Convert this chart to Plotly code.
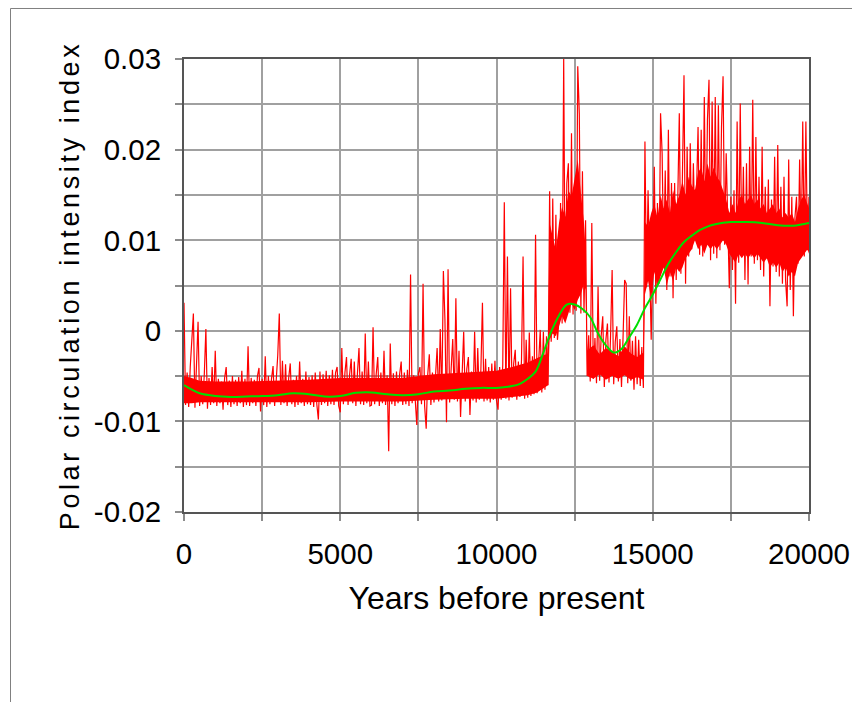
import plotly.graph_objects as go

# ---------------- data ----------------
# Red series: polar circulation intensity index, in units of 0.001, every 50 years
red_years = list(range(0, 20001, 50))
red_index_milli = [
    # 0 - 950
    3.1, -8.2, -4.6, -8.4, -4.0, -0.8, 1.9, -8.5, -3.6, 1.0, -8.3, -5.0, -8.1, -4.8, 0.2, -8.6, -5.2, -8.2, -4.0, -8.0,
    # 1000 - 1950
    -2.2, -8.3, -5.3, -8.0, -5.6, -8.7, -5.2, -4.0, -8.2, -5.5, -8.4, -5.0, -8.1, -5.4, -8.3, -5.1, -8.0, -4.4, -8.4, -5.3,
    # 2000 - 2950
    -8.2, -1.7, -8.3, -5.2, -8.0, -5.4, -8.3, -5.0, -4.1, -8.9, -5.3, -8.2, -2.8, -8.4, -5.0, -8.1, -5.3, -3.9, -8.3, -5.2,
    # 3000 - 3950
    -2.7, 1.9, -8.2, -3.3, -8.0, -3.7, -8.3, -5.2, -3.6, -8.1, -5.4, -8.4, -5.0, -8.2, -3.4, -8.0, -5.3, -8.3, -4.5, -8.1,
    # 4000 - 4950
    -5.1, -8.2, -4.9, -8.4, -4.6, -8.1, -9.8, -4.5, -8.2, -4.8, -8.0, -4.4, -8.3, -4.9, -8.1, -4.3, -8.2, -4.6, -4.0, -8.3,
    # 5000 - 5950
    -9.0, -1.9, -8.1, -4.6, -2.9, -8.2, -4.8, -3.1, -8.0, -3.4, -8.3, -4.7, -1.9, -8.1, -4.5, -8.2, -0.3, -8.0, -3.4, -8.3,
    # 6000 - 6950
    -8.2, 0.4, -8.1, -4.8, -2.9, -8.3, -4.6, -8.0, -2.2, -8.2, -4.9, -13.3, -1.4, -8.1, -4.7, -8.3, -4.5, -8.0, -4.8, -3.4,
    # 7000 - 7950
    -8.2, -4.6, -8.1, -4.3, -8.3, 6.2, -8.0, -4.9, -8.2, -10.4, -4.7, -4.0, -8.1, 5.2, -8.3, -10.8, -4.8, -2.6, -8.2, -4.6,
    # 8000 - 8950
    -7.9, -4.4, -1.9, -7.8, 0.2, -7.7, 6.6, 1.2, -10.1, 6.8, -7.9, -4.1, -0.9, -7.6, 3.6, -7.8, -2.2, -9.5, -4.3, -0.1,
    # 9000 - 9950
    -7.8, -4.2, -2.9, -9.3, -4.5, -7.7, -0.1, -7.9, -1.9, -7.6, -4.3, 3.1, -7.8, -3.1, -7.7, -4.0, -7.9, -3.6, -7.6, -3.3,
    # 10000 - 10950
    -7.7, -8.7, -4.0, -7.6, -3.8, 14.2, -7.5, 8.2, -7.7, 4.7, -7.4, -3.6, -2.1, -7.6, -3.4, -7.3, -3.2, 8.2, -7.5, -1.0,
    # 11000 - 11950
    -7.4, -0.2, -7.2, -2.8, -7.0, 10.6, -6.9, -2.5, 0.1, -6.8, -0.1, -6.5, -0.6, -6.0, 15.4, -1.2, 14.6, -0.8, 12.8, -1.0,
    # 12000 - 12950
    1.2, 14.1, 0.8, 30.0, 1.5, 16.3, 18.5, 2.0, 21.8, 1.8, 16.0, 2.2, 29.2, 24.0, 1.9, 17.6, 2.0, 12.2, -5.0, -0.5,
    # 13000 - 13950
    -5.6, 11.9, -5.3, -0.8, -5.8, 4.9, -5.5, -0.5, 1.6, -6.2, -1.0, 0.8, -5.7, -0.6, 6.7, -5.9, -1.2, 0.5, -5.6, -0.9,
    # 14000 - 14950
    -6.2, -0.7, 5.6, 5.2, -5.8, 1.6, -5.5, -1.1, -6.5, -0.6, -5.9, -1.0, -6.1, -1.8, -6.3, 20.9, 4.8, 15.5, 5.0, -1.0,
    # 15000 - 15950
    7.8, 18.1, 3.0, 14.1, 5.2, 24.0, 19.6, 7.4, 17.7, 4.5, 22.2, 6.0, 16.3, 3.6, 16.3, 5.6, 14.4, 24.0, 6.3, 20.3,
    # 16000 - 16950
    28.2, 5.2, 20.3, 8.2, 20.7, 9.0, 18.5, 10.4, 15.2, 22.5, 8.4, 22.2, 8.2, 25.8, 9.5, 23.3, 27.7, 7.8, 25.3, 8.5,
    # 17000 - 17950
    25.8, 8.0, 24.9, 8.9, 22.5, 28.1, 9.5, 19.6, 10.6, 4.7, 14.8, 6.7, 15.5, 3.0, 23.1, 7.5, 25.1, 8.2, 18.1, 5.6,
    # 18000 - 18950
    18.5, 5.1, 20.3, 8.2, 25.5, 7.4, 21.4, 7.8, 17.0, 6.7, 20.3, 6.0, 15.9, 8.0, 16.7, 2.7, 14.5, 7.1, 19.2, 6.5,
    # 19000 - 19950
    20.5, 6.0, 15.9, 5.2, 17.0, 5.6, 2.7, 18.9, 4.5, 14.8, 1.6, 12.5, 14.8, 7.4, 18.9, 8.5, 23.1, 8.2, 23.1, 8.9,
    # 20000
    14.8,
]

# Dense core of the red band (where the noisy series is solid red), units of 0.001
core_years = [
    0, 250, 500, 1000, 2000, 3000, 4000, 5000, 6000, 7000, 8000, 9000, 10000, 10500, 11000, 11300, 11650,
    11700, 11800, 11900, 12000, 12100, 12200, 12300, 12400, 12500, 12600, 12700, 12800, 12850,
    12900, 13100, 13300, 13500, 13700, 13900, 14100, 14300, 14500, 14700,
    14750, 14850, 14950, 15050, 15150, 15250, 15350, 15450, 15550, 15650, 15750, 15850, 15950,
    16050, 16150, 16250, 16350, 16450, 16550, 16650, 16750, 16850, 16950,
    17050, 17150, 17250, 17350, 17450, 17550, 17650, 17750, 17850, 17950,
    18050, 18150, 18250, 18350, 18450, 18550, 18650, 18750, 18850, 18950,
    19050, 19150, 19250, 19350, 19450, 19550, 19650, 19750, 19850, 19950, 20000,
]
core_upper_milli = [
    -5.0, -5.2, -5.5, -5.6, -5.6, -5.5, -5.4, -5.2, -5.2, -5.2, -4.8, -4.6, -4.4, -4.0, -3.5, -3.0, -2.5,
    11.9, 10.4, 8.9, 11.9, 13.7, 12.6, 15.5, 14.8, 17.0, 18.9, 15.2, 11.9, 8.9,
    -2.2, -1.6, -2.6, -1.9, -2.3, -2.8, -1.7, -2.5, -2.9, -2.4,
    12.0, 11.5, 13.0, 14.0, 12.5, 15.0, 13.5, 14.5, 13.0, 15.5, 14.0, 15.0, 16.5,
    15.0, 17.0, 16.0, 15.5, 17.5, 18.0, 16.5, 18.5, 17.0, 18.0,
    17.0, 16.5, 15.5, 14.5, 13.0, 14.0, 13.0, 14.5, 15.0, 14.0,
    14.5, 15.0, 14.0, 14.5, 13.5, 14.0, 13.0, 13.5, 14.0, 13.0,
    13.5, 12.5, 13.0, 12.5, 13.0, 12.0, 13.5, 14.5, 15.0, 14.0, 13.5,
]
core_lower_milli = [
    -8.0, -8.0, -7.9, -7.9, -7.9, -7.9, -7.9, -7.8, -7.8, -7.8, -7.6, -7.5, -7.5, -7.3, -7.1, -6.8, -6.0,
    -1.0, -0.3, -0.6, 0.5, 1.6, 0.8, 1.9, 3.0, 2.3, 3.4, 4.1, 5.2, 4.5,
    -5.0, -5.3, -4.8, -5.4, -5.0, -5.3, -4.9, -5.4, -5.1, -5.4,
    4.0, 5.5, 3.5, 6.5, 5.0, 6.0, 7.0, 5.0, 6.5, 5.5, 7.0, 6.5, 7.0,
    8.0, 8.5, 9.0, 10.0, 9.0, 9.5, 8.5, 9.5, 9.0, 9.5,
    9.0, 9.5, 10.0, 9.5, 8.5, 8.0, 7.5, 8.5, 8.0, 8.5,
    8.0, 8.5, 8.0, 8.5, 8.0, 7.5, 8.0, 7.0, 7.5, 7.0,
    7.5, 6.5, 7.0, 6.0, 6.5, 6.0, 7.5, 8.0, 8.5, 9.0, 8.5,
]

# Green smoothed curve, in units of 0.001
green_years = [0, 250, 500, 1000, 1500, 2000, 2500, 3000, 3500, 4000, 4500, 5000, 5500, 6000, 6500,
               7000, 7500, 8000, 8500, 9000, 9500, 10000, 10500, 10750, 11000, 11250, 11500, 11750,
               12000, 12250, 12500, 12750, 13000, 13250, 13500, 13750, 14000, 14250, 14500, 14750,
               15000, 15250, 15500, 15750, 16000, 16250, 16500, 16750, 17000, 17500, 18000, 18500,
               19000, 19500, 20000]
green_index_milli = [-6.0, -6.5, -6.9, -7.2, -7.3, -7.25, -7.2, -7.1, -6.9, -7.0, -7.25, -7.2, -6.85, -6.8, -7.0,
                     -7.1, -7.0, -6.7, -6.6, -6.4, -6.3, -6.3, -6.1, -5.85, -5.3, -4.5, -2.4, -0.1,
                     1.7, 2.9, 2.9, 2.4, 1.5, -0.3, -1.6, -2.4, -2.0, -0.7, 0.7, 2.5,
                     4.0, 5.7, 7.4, 8.7, 9.8, 10.5, 11.1, 11.5, 11.75, 12.0, 12.0, 11.9,
                     11.65, 11.6, 11.9]

x_tick_vals = [0, 2500, 5000, 7500, 10000, 12500, 15000, 17500, 20000]
x_tick_text = ["0", "", "5000", "", "10000", "", "15000", "", "20000"]
y_tick_vals = [-0.02, -0.015, -0.01, -0.005, 0, 0.005, 0.01, 0.015, 0.02, 0.025, 0.03]
y_tick_text = ["-0.02", "", "-0.01", "", "0", "", "0.01", "", "0.02", "", "0.03"]

assert len(red_years) == len(red_index_milli), (len(red_years), len(red_index_milli))
assert len(core_years) == len(core_upper_milli) == len(core_lower_milli), (
    len(core_years), len(core_upper_milli), len(core_lower_milli))
assert len(green_years) == len(green_index_milli), (len(green_years), len(green_index_milli))

to_index = lambda seq: [v / 1000 for v in seq]   # unit conversion only
red_index = to_index(red_index_milli)
core_upper = to_index(core_upper_milli)
core_lower = to_index(core_lower_milli)
green_index = to_index(green_index_milli)

# ---------------- figure ----------------
FONT = "Liberation Sans, Arial, Helvetica, sans-serif"
RED = "#ff0000"

fig = go.Figure()
# solid core of the noisy band
fig.add_trace(go.Scatter(x=core_years, y=core_lower, mode="lines", line=dict(width=0, color=RED),
                         hoverinfo="skip", showlegend=False))
fig.add_trace(go.Scatter(x=core_years, y=core_upper, mode="lines", line=dict(width=0, color=RED),
                         fill="tonexty", fillcolor=RED, hoverinfo="skip", showlegend=False))
# the noisy series itself
fig.add_trace(go.Scatter(
    x=red_years, y=red_index, mode="lines",
    line=dict(color=RED, width=1.2),
    hoverinfo="skip", showlegend=False,
))
fig.add_trace(go.Scatter(
    x=green_years, y=green_index, mode="lines",
    line=dict(color="#00dd00", width=2, shape="spline", smoothing=1.0),
    hoverinfo="skip", showlegend=False,
))

axis_common = dict(
    ticks="outside", ticklen=7, tickwidth=1.5, tickcolor="#8c8c8c",
    showgrid=True, gridcolor="#a0a0a0", gridwidth=2,
    showline=True, linecolor="#555555", linewidth=2, mirror=True,
    zeroline=False, automargin=False, ticklabelstandoff=8,
    tickfont=dict(family=FONT, size=29.5, color="#000000"),
)

fig.update_layout(
    width=852, height=702,
    margin=dict(l=184, r=43, t=59, b=190),
    paper_bgcolor="#ffffff", plot_bgcolor="#ffffff",
    font=dict(family=FONT, color="#000000"),
    xaxis=dict(
        range=[0, 20000], tickmode="array", tickvals=x_tick_vals, ticktext=x_tick_text,
        title=dict(text="Years before present", font=dict(family=FONT, size=32), standoff=17),
        **axis_common,
    ),
    yaxis=dict(
        range=[-0.02, 0.03], tickmode="array", tickvals=y_tick_vals, ticktext=y_tick_text,
        title=dict(text='<span style="letter-spacing:3.6px">Polar circulation intensity index</span>',
                   font=dict(family=FONT, size=27), standoff=6),
        **axis_common,
    ),
    shapes=[
        dict(type="line", xref="paper", yref="paper", x0=-0.2776, x1=-0.2776, y0=1.1115, y1=-0.5,
             line=dict(color="#808080", width=1)),
        dict(type="line", xref="paper", yref="paper", x0=-0.2776, x1=1.2, y0=1.1115, y1=1.1115,
             line=dict(color="#808080", width=1)),
    ],
)

fig.write_html("out.html")
